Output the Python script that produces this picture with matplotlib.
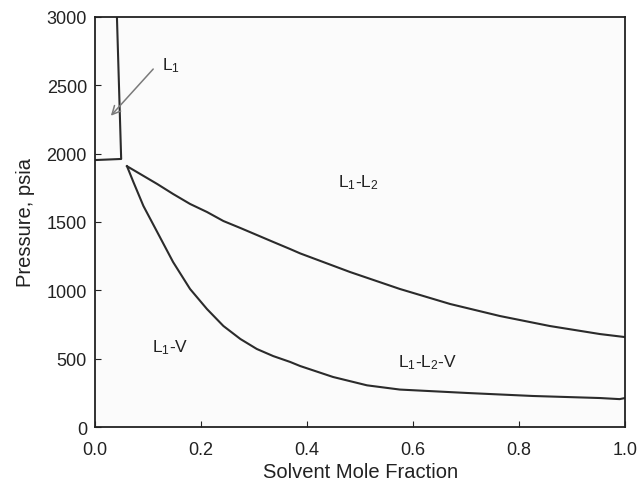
import matplotlib as mpl
mpl.use('Agg')
import matplotlib.pyplot as plt

plt.rcParams['font.family'] = ['Liberation Sans', 'DejaVu Sans']
plt.rcParams['mathtext.fontset'] = 'custom'
plt.rcParams['mathtext.rm'] = 'Liberation Sans'
plt.rcParams['mathtext.it'] = 'Liberation Sans'

# L1 boundary (vertical then horizontal)
l1_x = [0.041, 0.049, 0.0]
l1_p = [3000, 1961, 1953]

# upper curve of the loop (L1-L2 / L1-L2-V boundary)
up_x = [0.060, 0.085, 0.117, 0.147, 0.179, 0.211, 0.242, 0.274, 0.305, 0.336,
        0.368, 0.387, 0.481, 0.575, 0.670, 0.764, 0.858, 0.953, 1.0]
up_p = [1908, 1851, 1778, 1705, 1632, 1573, 1507, 1456, 1405, 1354,
        1302, 1270, 1134, 1010, 900, 812, 739, 680, 658]

# lower curve of the loop (L1-V / L1-L2-V boundary)
lo_x = [0.060, 0.072, 0.091, 0.117, 0.147, 0.179, 0.211, 0.242, 0.274, 0.305,
        0.336, 0.368, 0.387, 0.449, 0.513, 0.575, 0.702, 0.826, 0.953, 0.990, 1.0]
lo_p = [1908, 1793, 1617, 1427, 1207, 1010, 863, 739, 644, 571,
        519, 476, 446, 366, 305, 274, 249, 227, 212, 204, 212]

line_col = '#2b2b2b'
txt_col = '#222222'

fig, ax = plt.subplots(figsize=(6.39, 4.85), dpi=100)
fig.subplots_adjust(left=0.149, right=0.978, top=0.963, bottom=0.1175)
ax.set_facecolor('#fbfbfb')

ax.plot(l1_x, l1_p, color=line_col, lw=1.5)
ax.plot(up_x, up_p, color=line_col, lw=1.5, solid_joinstyle='round')
ax.plot(lo_x, lo_p, color=line_col, lw=1.5, solid_joinstyle='round')

ax.annotate('', xy=(0.026, 2262), xytext=(0.113, 2634),
            arrowprops=dict(arrowstyle='->,head_length=0.6,head_width=0.3',
                            color='#7a7a7a', lw=1.1))
lab = dict(fontsize=12.5, va='baseline', ha='left', color=txt_col)
ax.text(0.126, 2619, r'L$_1$', **lab)
ax.text(0.458, 1763, r'L$_1$-L$_2$', **lab)
ax.text(0.108, 556, r'L$_1$-V', **lab)
ax.text(0.572, 446, r'L$_1$-L$_2$-V', **lab)

ax.set_xlim(0, 1.0)
ax.set_ylim(0, 3000)
ax.set_xticks([0.0, 0.2, 0.4, 0.6, 0.8, 1.0])
ax.set_yticks([0, 500, 1000, 1500, 2000, 2500, 3000])
ax.tick_params(direction='in', length=4, width=0.8, labelsize=13,
               colors=txt_col)
ax.tick_params(axis='x', pad=10)
ax.tick_params(axis='y', pad=6)
for s in ax.spines.values():
    s.set_linewidth(1.3)
    s.set_color('#222222')
ax.set_xlabel('Solvent Mole Fraction', fontsize=14.5, color=txt_col, labelpad=3)
ax.set_ylabel('Pressure, psia', fontsize=14.5, color=txt_col, labelpad=8)

plt.savefig('out.png', dpi=100)
plt.close()
